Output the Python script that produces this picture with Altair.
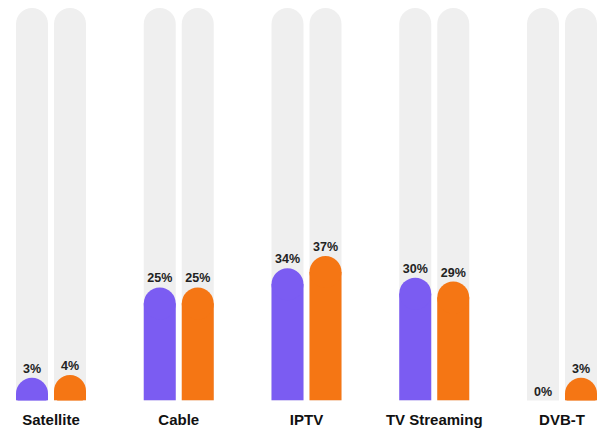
import altair as alt
import pandas as pd

categories = ["Satellite", "Cable", "IPTV", "TV Streaming", "DVB-T"]
series = ["Group A", "Group B"]
# printed labels (%)
values_a = [3, 25, 34, 30, 0]
values_b = [4, 25, 37, 29, 3]
# drawn bar heights, as % of the grey track
heights_a = [5.8, 28.8, 33.7, 31.3, 0]
heights_b = [6.5, 28.8, 36.8, 30.3, 5.8]

colors = ["#7B5CF2", "#F57614"]

rows = []
for i, c in enumerate(categories):
    rows.append({"cat": c, "series": series[0], "v": values_a[i], "h": heights_a[i]})
    rows.append({"cat": c, "series": series[1], "v": values_b[i], "h": heights_b[i]})
df = pd.DataFrame(rows)
df["label"] = df["v"].astype(str) + "%"

R = 16
x = alt.X("cat:N", sort=categories,
          scale=alt.Scale(paddingInner=0.452, paddingOuter=0),
          axis=alt.Axis(title=None, domain=False, ticks=False, labelAngle=0,
                        labelFont="Liberation Sans", labelFontWeight="bold",
                        labelFontSize=15, labelColor="#111111", labelPadding=12))
xo = alt.XOffset("series:N", sort=series,
                 scale=alt.Scale(paddingInner=0.158, paddingOuter=0))
yscale = alt.Scale(domain=[0, 100], nice=False)
color = alt.Color("series:N", sort=series, scale=alt.Scale(domain=series, range=colors), legend=None)

base = alt.Chart(df)

track = base.mark_bar(color="#EFEFEF", cornerRadiusTopLeft=R, cornerRadiusTopRight=R).encode(
    x=x, xOffset=xo, y=alt.datum(100, scale=yscale, axis=None), y2=alt.datum(0)
)

shown = base.transform_filter("datum.h > 0")

body = shown.mark_bar(yOffset=R, clip=True).encode(
    x=x, xOffset=xo, y=alt.Y("h:Q", scale=yscale, axis=None), y2=alt.datum(0), color=color
)

cap = shown.mark_circle(size=(2 * R) ** 2, opacity=1, yOffset=R, clip=True).encode(
    x=x, xOffset=xo, y=alt.Y("h:Q", scale=yscale, axis=None), color=color
)

text = base.mark_text(dy=-5, baseline="alphabetic", font="Liberation Sans",
                      fontWeight="bold", fontSize=12.5, color="#222222").encode(
    x=x, xOffset=xo, y=alt.Y("h:Q", scale=yscale, axis=None), text="label:N"
)

chart = alt.layer(track, body, cap, text).properties(
    width=581, height=392.5,
    autosize=alt.AutoSizeParams(type="none"),
    padding={"left": 8, "right": 0, "top": 0, "bottom": 27.5},
).configure_view(stroke=None)

chart.save("out.html", embed_options={"renderer": "svg", "actions": False})
